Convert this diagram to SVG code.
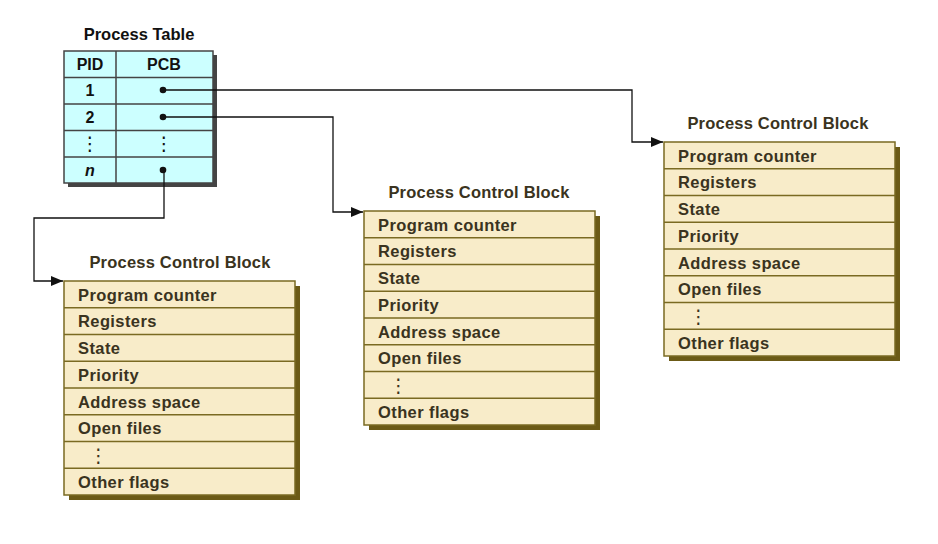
<svg xmlns="http://www.w3.org/2000/svg" width="938" height="544" viewBox="0 0 938 544">
<style>
text{font-family:"Liberation Sans",Arial,sans-serif;font-weight:bold}
.title{font-size:16.5px;fill:#3a3320;text-anchor:middle;letter-spacing:0.2px}
.ttitle{font-size:16.5px;fill:#111;text-anchor:middle}
.row{font-size:16.5px;fill:#3a3320;letter-spacing:0.4px}
.cell{font-size:16px;fill:#111;text-anchor:middle}
.dots{font-family:"DejaVu Sans",sans-serif;font-weight:normal;font-size:19px;letter-spacing:0}
.pcb{fill:#f8ecc9;stroke:#7a6a22;stroke-width:1.5}
.pshadow{fill:#6b5a16}
.tcell{fill:#ccffff;stroke:#444;stroke-width:1.5}
.tshadow{fill:#444}
.conn{fill:none;stroke:#111;stroke-width:1.3}
</style>
<defs>
<marker id="arr" viewBox="0 0 12 10" refX="12" refY="5" markerWidth="12" markerHeight="10" markerUnits="userSpaceOnUse" orient="auto">
<path d="M0,0 L12,5 L0,10 z" fill="#111"/>
</marker>
<g id="pcbRows">
<rect class="pshadow" x="5" y="5" width="231" height="214"/>
<rect class="pcb" x="0" y="0" width="231" height="214"/>
<path d="M0,26.75H231M0,53.5H231M0,80.25H231M0,107H231M0,133.75H231M0,160.5H231M0,187.25H231" stroke="#7a6a22" stroke-width="1.5"/>
<text class="row" x="14" y="19.5">Program counter</text>
<text class="row" x="14" y="46">Registers</text>
<text class="row" x="14" y="73">State</text>
<text class="row" x="14" y="100">Priority</text>
<text class="row" x="14" y="126.5">Address space</text>
<text class="row" x="14" y="153">Open files</text>
<text class="row dots" x="25" y="181" fill="#3a3320">⋮</text>
<text class="row" x="14" y="207">Other flags</text>
</g>
</defs>

<g id="process-table">
<text class="ttitle" x="139" y="40">Process Table</text>
<rect class="tshadow" x="68" y="55" width="149" height="132"/>
<rect class="tcell" x="64" y="51" width="149" height="132"/>
<path d="M64,77.5H213M64,104H213M64,130.5H213M64,157H213M116,51V183" stroke="#444" stroke-width="1.5"/>
<text class="cell" x="90" y="70">PID</text>
<text class="cell" x="164" y="70">PCB</text>
<text class="cell" x="90" y="96">1</text>
<text class="cell" x="90" y="123">2</text>
<text class="cell dots" x="90" y="150" fill="#111">⋮</text>
<text class="cell dots" x="164" y="150" fill="#111">⋮</text>
<text class="cell" x="90" y="176" font-style="italic">n</text>
<circle cx="163" cy="90" r="3.3" fill="#111"/>
<circle cx="163" cy="117" r="3.3" fill="#111"/>
<circle cx="163" cy="170" r="3.3" fill="#111"/>
</g>

<g id="pcb1">
<text class="title" x="180" y="268">Process Control Block</text>
<use href="#pcbRows" x="64" y="281"/>
</g>
<g id="pcb2">
<text class="title" x="479" y="198">Process Control Block</text>
<use href="#pcbRows" x="364" y="211"/>
</g>
<g id="pcb3">
<text class="title" x="778" y="129">Process Control Block</text>
<use href="#pcbRows" x="664" y="142"/>
</g>

<g id="connectors">
<path class="conn" d="M163,90H632V142H663" marker-end="url(#arr)"/>
<path class="conn" d="M163,117H333V212H363" marker-end="url(#arr)"/>
<path class="conn" d="M164,170V218H34V281H63" marker-end="url(#arr)"/>
</g>
</svg>
